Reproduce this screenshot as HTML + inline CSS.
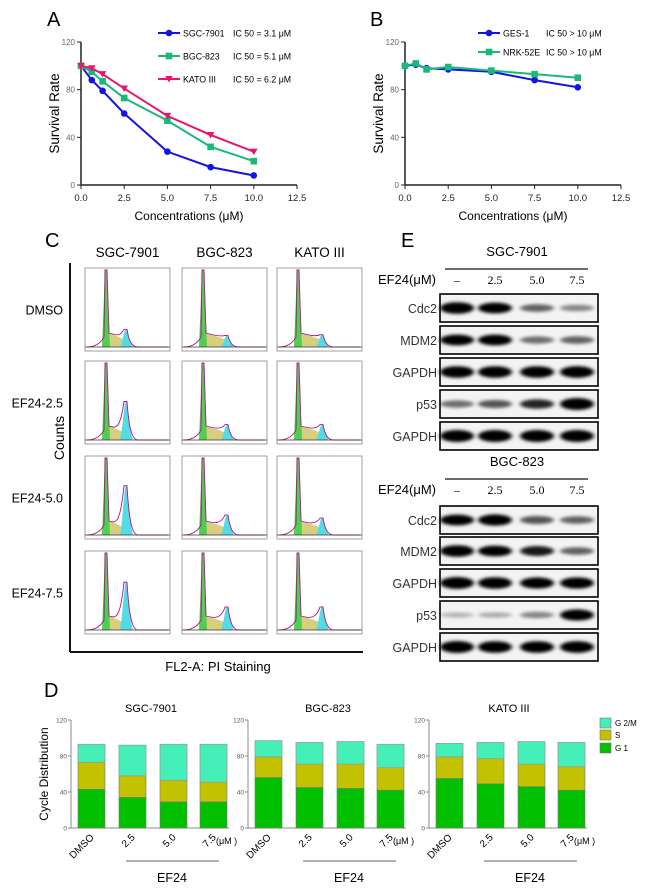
<!DOCTYPE html>
<html><head><meta charset="utf-8"><style>
body{margin:0;background:#fff}
svg{display:block;font-family:"Liberation Sans",Arial,sans-serif}
</style></head><body>
<svg id="fig" width="650" height="889" viewBox="0 0 650 889" xmlns="http://www.w3.org/2000/svg">
<defs>
<filter id="blur" x="-20%" y="-50%" width="140%" height="200%"><feGaussianBlur stdDeviation="2.2 1.6"/></filter>
</defs>
<g id="A"></g>
<g id="B"></g>
<g id="C"></g>
<g id="E"></g>
<g id="D"></g>
</svg>
<script>
// ---- Panel A/B data ----
const concs = [0, 0.625, 1.25, 2.5, 5, 7.5, 10];
const xTicks = [0, 2.5, 5, 7.5, 10, 12.5];
const yTicks = [0, 40, 80, 120];
const sgcSurv = [100, 88, 79, 60, 28, 15, 8];
const bgcSurv = [100, 95, 87, 73, 54, 32, 20];
const katoSurv = [100, 98, 93, 81, 58, 42, 28];
const gesSurv = [100, 101, 98, 97, 95, 88, 82];
const nrkSurv = [100, 102, 97, 99, 96, 93, 90];
// ---- Panel D data ----
const dCats = ["DMSO", "2.5", "5.0", "7.5"];
const dG1 = [[43, 34, 29, 29], [56, 45, 44, 42], [55, 49, 46, 42]];
const dS = [[30, 24, 24, 22], [23, 26, 27, 25], [24, 28, 25, 26]];
const dG2 = [[20, 34, 40, 42], [18, 24, 25, 26], [15, 18, 25, 27]];
const dTitles = ["SGC-7901", "BGC-823", "KATO III"];
const dTicks = [0, 40, 80, 120];
// ---- Panel C data (G2/M peak height fraction) ----
const cCols = ["SGC-7901", "BGC-823", "KATO III"];
const cRows = ["DMSO", "EF24-2.5", "EF24-5.0", "EF24-7.5"];
const cG2 = [[0.23, 0.15, 0.16], [0.5, 0.2, 0.2], [0.64, 0.26, 0.22], [0.62, 0.3, 0.3]];
// ---- Panel E data (band intensity 0..1) ----
const eLanes = ["\u2013", "2.5", "5.0", "7.5"];
const eRows = ["Cdc2", "MDM2", "GAPDH", "p53", "GAPDH"];
const eSgc = [[0.95, 0.85, 0.45, 0.3], [0.85, 0.85, 0.4, 0.45], [0.95, 0.95, 0.95, 0.97], [0.4, 0.5, 0.7, 1], [1, 1, 1, 1]];
const eBgc = [[0.85, 0.9, 0.5, 0.45], [0.95, 0.85, 0.75, 0.45], [1, 0.95, 0.9, 0.92], [0.12, 0.15, 0.3, 0.9], [1, 0.95, 0.95, 0.97]];

const NS = "http://www.w3.org/2000/svg";
function el(tag, attrs, parent, text) {
  const e = document.createElementNS(NS, tag);
  for (const k in attrs) e.setAttribute(k, attrs[k]);
  if (text !== undefined) e.textContent = text;
  parent.appendChild(e);
  return e;
}

function lineChart(g, cfg) {
  const sx = v => cfg.x0 + (v / 12.5) * (cfg.x1 - cfg.x0);
  const sy = v => cfg.y0 - (v / 120) * (cfg.y0 - cfg.y1);
  const lab = el("text", {x: cfg.lx, y: 26, "font-size": 20}, g, cfg.letter);
  
  
  el("line", {x1: cfg.x0, y1: sy(120), x2: cfg.x0, y2: sy(0), stroke: "#222", "stroke-width": 1.5}, g);
  el("line", {x1: cfg.x0, y1: sy(0), x2: sx(12.5), y2: sy(0), stroke: "#222", "stroke-width": 1.5}, g);
  yTicks.forEach(t => {
    el("line", {x1: cfg.x0 - 4, y1: sy(t), x2: cfg.x0, y2: sy(t), stroke: "#222"}, g);
    const tl = el("text", {x: cfg.x0 - 6, y: sy(t) + 3, "font-size": 8, fill: "#666", "text-anchor": "end"}, g, t);
    
    
  });
  xTicks.forEach(t => {
    el("line", {x1: sx(t), y1: sy(0), x2: sx(t), y2: sy(0) + 4, stroke: "#222"}, g);
    const tl = el("text", {x: sx(t), y: sy(0) + 16, "font-size": 9.5, fill: "#222", "text-anchor": "middle"}, g, t.toFixed(1));
    
    
  });
  const yt = el("text", {x: 0, y: 0, "font-size": 13.5, "text-anchor": "middle", transform: `translate(${cfg.x0 - 22},${sy(60)}) rotate(-90)`}, g, "Survival Rate");
  
  
  const xt = el("text", {x: (cfg.x0 + sx(12.5)) / 2, y: 220, "font-size": 12, "text-anchor": "middle"}, g, "Concentrations (\u03bcM)");
  
  
  cfg.series.forEach((s, i) => {
    const pts = concs.map((c, j) => sx(c) + "," + sy(s.vals[j])).join(" ");
    const pl = el("polyline", {points: pts, fill: "none", stroke: s.color, "stroke-width": 2}, g);
    
    
    concs.forEach((c, j) => {
      const m = marker(g, s.shape, sx(c), sy(s.vals[j]), s.color);
      
      
    });
    const ly = cfg.legY[i];
    el("line", {x1: cfg.legX, y1: ly, x2: cfg.legX + 22, y2: ly, stroke: s.color, "stroke-width": 2}, g);
    marker(g, s.shape, cfg.legX + 11, ly, s.color);
    const lt = el("text", {x: cfg.legX + 25, y: ly + 3.5, "font-size": 8.8}, g, s.name);
    
    
    el("text", {x: cfg.icX, y: ly + 3.5, "font-size": 8.8}, g, s.ic);
  });
}
function marker(g, shape, x, y, c) {
  if (shape === "circle") return el("circle", {cx: x, cy: y, r: 3.3, fill: c}, g);
  if (shape === "square") return el("rect", {x: x - 3.3, y: y - 3.3, width: 6.6, height: 6.6, fill: c}, g);
  return el("polygon", {points: `${x - 3.8},${y - 3} ${x + 3.8},${y - 3} ${x},${y + 3.5}`, fill: c}, g);
}
lineChart(document.getElementById("A"), {letter: "A", lx: 47, x0: 81, x1: 297, y0: 185, y1: 42, legX: 158, icX: 233, legY: [33, 56, 79],
  series: [
    {key: "sgc-7901", name: "SGC-7901", ic: "IC 50 = 3.1 \u03bcM", vals: sgcSurv, color: "#1414e6", shape: "circle"},
    {key: "bgc-823", name: "BGC-823", ic: "IC 50 = 5.1 \u03bcM", vals: bgcSurv, color: "#1ab879", shape: "square"},
    {key: "kato-iii", name: "KATO III", ic: "IC 50 = 6.2 \u03bcM", vals: katoSurv, color: "#ea1470", shape: "tri"}]});
lineChart(document.getElementById("B"), {letter: "B", lx: 370, x0: 405, x1: 621, y0: 185, y1: 42, legX: 478, icX: 546, legY: [33, 52],
  series: [
    {key: "ges-1", name: "GES-1", ic: "IC 50 > 10 \u03bcM", vals: gesSurv, color: "#1414e6", shape: "circle"},
    {key: "nrk-52e", name: "NRK-52E", ic: "IC 50 > 10 \u03bcM", vals: nrkSurv, color: "#1ab879", shape: "square"}]});
// ---- Panel C ----
(function () {
  const g = document.getElementById("C");
  const t = el("text", {x: 45, y: 247, "font-size": 20}, g, "C");
  
  
  const colX = [85, 182, 277], w = 85, rowY = [268, 361, 456, 551], h = 83;
  cCols.forEach((c, i) => {
    const tt = el("text", {x: colX[i] + w / 2, y: 257, "font-size": 13.5, "text-anchor": "middle"}, g, c);
    
    
  });
  cRows.forEach((r, j) => {
    const rt = el("text", {x: 63, y: rowY[j] + h / 2 + 5, "font-size": 12.5, "text-anchor": "end"}, g, r);
    
    
    cCols.forEach((c, i) => {
      const x = colX[i], y = rowY[j], b = y + h - 4;
      const box = el("rect", {x: x, y: y, width: w, height: h, fill: "#fff", stroke: "#888", "stroke-width": 0.8}, g);
      
      
      const g1 = x + 21, g2 = x + (i === 0 ? 41 : 45), pk = h - 6, g2h = cG2[j][i] * (h - 6);
      el("path", {d: `M${g1 - 2},${b} L${g1 + 2},${b - 14} C${g1 + 10},${b - 12} ${g2 - 8},${b - 10} ${g2 - 3},${b - 8} L${g2 + 3},${b} Z`, fill: "#d7cf7e"}, g);
      el("path", {d: `M${g1 - 4},${b} L${g1 - 1},${b - pk} L${g1 + 1},${b - pk} L${g1 + 4},${b} Z`, fill: "#4fcf4f"}, g);
      el("path", {d: `M${g2 - 6},${b} C${g2 - 3},${b - g2h * 0.3} ${g2 - 2},${b - g2h} ${g2},${b - g2h} C${g2 + 2},${b - g2h} ${g2 + 3},${b - g2h * 0.3} ${g2 + 7},${b} Z`, fill: "#53dbe6"}, g);
      el("path", {d: `M${x + 2},${b} C${x + 10},${b} ${g1 - 5},${b - 4} ${g1 - 2},${b - 10} L${g1 - 1},${b - pk} L${g1 + 1},${b - pk} L${g1 + 3},${b - 14} C${g1 + 10},${b - 12} ${g2 - 6},${b - 10} ${g2 - 2},${b - g2h} L${g2 + 1},${b - g2h} C${g2 + 3},${b - g2h * 0.3} ${g2 + 6},${b} ${g2 + 12},${b} L${x + w - 2},${b}`, fill: "none", stroke: "#b0148c", "stroke-width": 0.9}, g);
      el("line", {x1: x, y1: b, x2: x + w, y2: b, stroke: "#333", "stroke-width": 0.8}, g);
    });
  });
  el("line", {x1: 70, y1: 263, x2: 70, y2: 652, stroke: "#111", "stroke-width": 2}, g);
  el("line", {x1: 70, y1: 652, x2: 363, y2: 652, stroke: "#111", "stroke-width": 2}, g);
  const ct = el("text", {x: 0, y: 0, "font-size": 14, "text-anchor": "middle", transform: "translate(64,438) rotate(-90)"}, g, "Counts");
  
  
  const ft = el("text", {x: 218, y: 671, "font-size": 13, "text-anchor": "middle"}, g, "FL2-A: PI Staining");
  
  
})();
// ---- Panel E ----
(function () {
  const g = document.getElementById("E");
  const t = el("text", {x: 401, y: 247, "font-size": 20}, g, "E");
  
  
  const lanes = [457, 495, 537, 577], bx0 = 440, bx1 = 598;
  function block(name, ty, rows, vals) {
    const tt = el("text", {x: 517, y: ty, "font-size": 13, "text-anchor": "middle"}, g, name);
    
    
    el("line", {x1: 445, y1: ty + 13, x2: 588, y2: ty + 13, stroke: "#111", "stroke-width": 1.2}, g);
    el("text", {x: 436, y: ty + 28, "font-size": 13, "text-anchor": "end"}, g, "EF24(\u03bcM)");
    eLanes.forEach((l, k) => el("text", {x: lanes[k], y: ty + 28, "font-size": 12, "font-family": "Liberation Serif, serif", "text-anchor": "middle"}, g, l));
    rows.forEach((ry, r) => {
      const lab = el("text", {x: 437, y: ry + 19, "font-size": 12.5, "text-anchor": "end", fill: "#333"}, g, eRows[r]);
      
      
      el("rect", {x: bx0, y: ry, width: bx1 - bx0, height: 28, fill: "#f3f3f3", stroke: "#000", "stroke-width": 1.6}, g);
      vals[r].forEach((v, k) => {
        const b = el("ellipse", {cx: lanes[k], cy: ry + 14, rx: 17, ry: 2 + 4 * v, fill: "#000", opacity: Math.min(1, 0.15 + v), filter: "url(#blur)"}, g);
        
        
      });
    });
  }
  block("SGC-7901", 256, [294, 326, 358, 390, 422], eSgc);
  block("BGC-823", 466, [506, 537, 569, 601, 633], eBgc);
})();
// ---- Panel D ----
(function () {
  const g = document.getElementById("D");
  const t = el("text", {x: 44, y: 697, "font-size": 20}, g, "D");
  
  
  const axX = [71, 248, 429], y0 = 828, y1 = 720, sy = v => y0 - v / 120 * (y0 - y1);
  const barOff = [7, 48, 89, 129], bw = 27;
  const cols = {g2: "#44f0b8", s: "#c2c200", g1: "#00c000"};
  dTitles.forEach((tt, p) => {
    const x0 = axX[p];
    const tl = el("text", {x: x0 + 80, y: 712, "font-size": 11, "text-anchor": "middle"}, g, tt);
    
    
    el("line", {x1: x0, y1: y1, x2: x0, y2: y0, stroke: "#888"}, g);
    el("line", {x1: x0, y1: y0, x2: x0 + 158, y2: y0, stroke: "#888"}, g);
    dTicks.forEach(v => {
      el("line", {x1: x0 - 3, y1: sy(v), x2: x0, y2: sy(v), stroke: "#888"}, g);
      el("text", {x: x0 - 4, y: sy(v) + 2.5, "font-size": 6.5, fill: "#555", "text-anchor": "end"}, g, v);
    });
    dCats.forEach((c, k) => {
      const bx = x0 + barOff[k];
      const a = dG1[p][k], b = dS[p][k], d = dG2[p][k];
      const r1 = el("rect", {x: bx, y: sy(a), width: bw, height: sy(0) - sy(a), fill: cols.g1, stroke: "#777", "stroke-width": 0.6}, g);
      
      
      const r2 = el("rect", {x: bx, y: sy(a + b), width: bw, height: sy(a) - sy(a + b), fill: cols.s, stroke: "#777", "stroke-width": 0.6}, g);
      
      
      const r3 = el("rect", {x: bx, y: sy(a + b + d), width: bw, height: sy(a + b) - sy(a + b + d), fill: cols.g2, stroke: "#999", "stroke-width": 0.8}, g);
      
      
      const cx = bx + bw / 2 + 3;
      const lt = el("text", {x: 0, y: 0, "font-size": 10, "text-anchor": "end", transform: `translate(${cx},${838}) rotate(-45)`}, g, c);
      
      
    });
    el("text", {x: x0 + 145, y: 844, "font-size": 9}, g, "(\u03bcM )");
    el("line", {x1: x0 + 55, y1: 861, x2: x0 + 148, y2: 861, stroke: "#666"}, g);
    el("text", {x: x0 + 101, y: 882, "font-size": 12.5, "text-anchor": "middle"}, g, "EF24");
  });
  const yt = el("text", {x: 0, y: 0, "font-size": 12, "text-anchor": "middle", transform: "translate(48,774) rotate(-90)"}, g, "Cycle Distribution");
  
  
  [["G 2/M", cols.g2, 718], ["S", cols.s, 730], ["G 1", cols.g1, 743]].forEach(l => {
    const lr = el("rect", {x: 600, y: l[2], width: 11, height: 10, fill: l[1], stroke: "#777", "stroke-width": 0.6}, g);
    
    
    el("text", {x: 615, y: l[2] + 8, "font-size": 8}, g, l[0]);
  });
})();
</script>
</body></html>
